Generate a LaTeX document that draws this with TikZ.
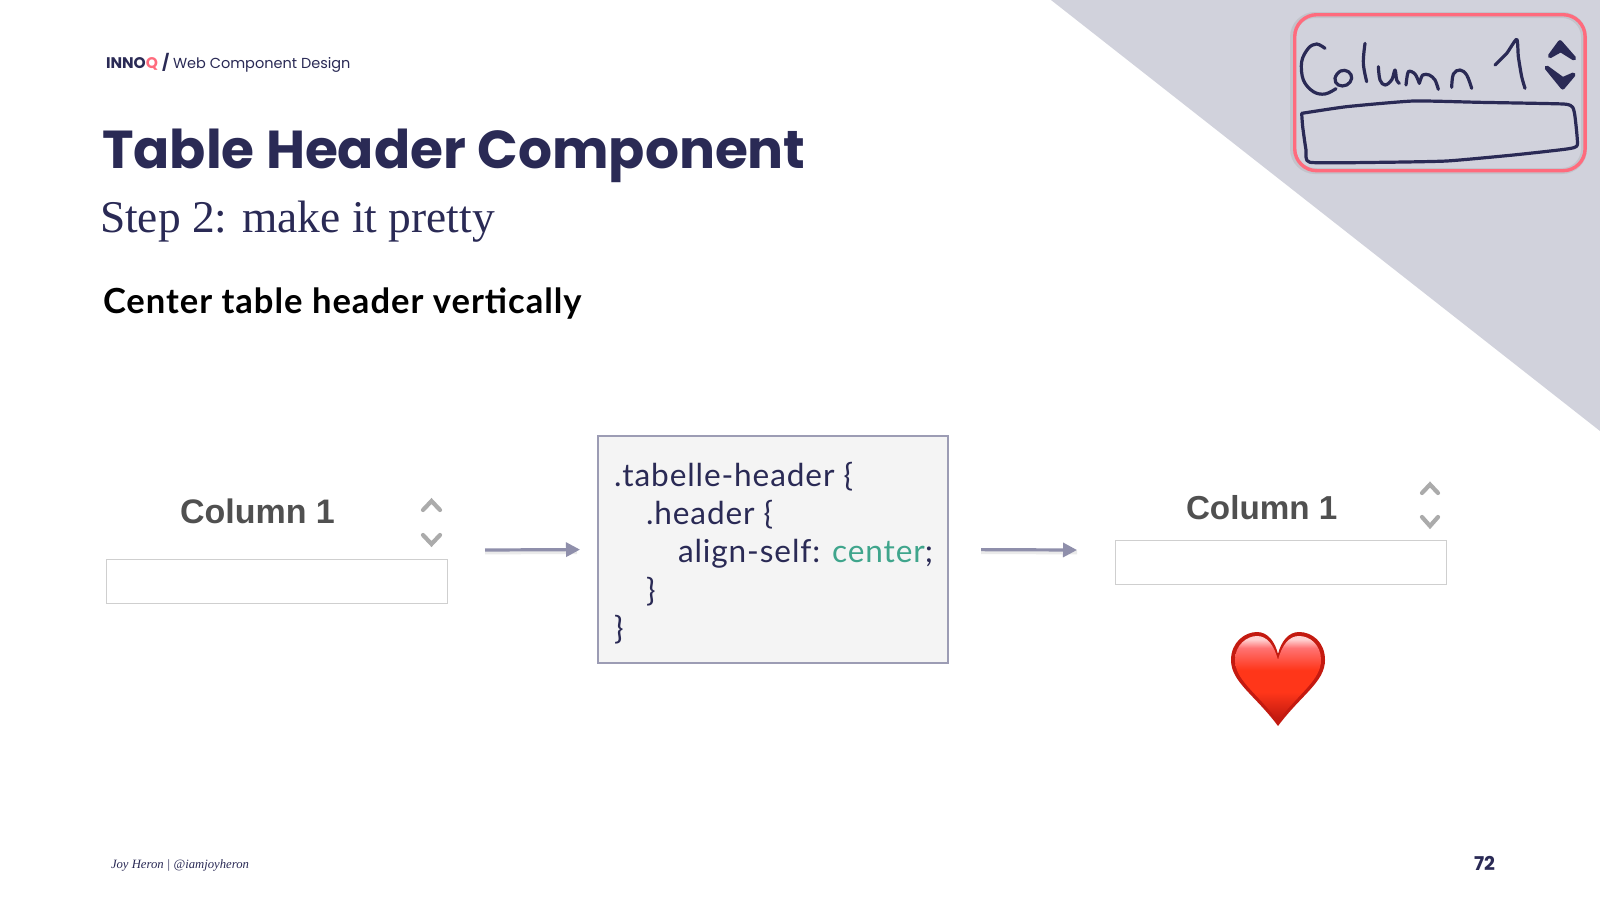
\documentclass[tikz,border=0pt]{standalone}
\usepackage{fontspec}
\setmainfont{Poppins}
\newfontfamily\serifface{Liberation Serif}
\newfontfamily\armface{Liberation Sans}
\newfontfamily\latoface[LetterSpace=2.8]{Lato}
\usetikzlibrary{arrows.meta}
\definecolor{ink}{HTML}{2A2A55}
\definecolor{tri}{HTML}{D1D2DC}
\definecolor{pinkred}{HTML}{FF6B7D}
\definecolor{arrowc}{HTML}{8F8FAB}
\definecolor{boxline}{HTML}{9C9CB4}
\definecolor{codebg}{HTML}{F4F4F4}
\definecolor{teal}{HTML}{3FA58C}
\definecolor{lgray}{HTML}{CFCFCF}
\definecolor{chev}{HTML}{ABABAB}
\definecolor{coltext}{HTML}{505050}
\definecolor{heartedge}{HTML}{C41A10}
\pgfdeclareverticalshading{heartfill}{100bp}{color(0bp)=(heartedge); color(27bp)=(heartedge); color(42bp)=(red!75!orange!90!white); color(55bp)=(red!75!orange!90!white); color(68bp)=(red!55!white); color(73bp)=(red!18!white); color(100bp)=(red!18!white)}
\tikzset{
 txt/.style={anchor=base west,inner sep=0pt,outer sep=0pt},
 codeline/.style={txt,text=ink,font=\latoface\fontsize{15.8}{18}\selectfont},
 inputbox/.style={draw=lgray,line width=0.7pt,fill=white,inner sep=0pt,minimum height=22pt},
 coltitle/.style={txt,text=coltext,font=\armface\bfseries\fontsize{17}{20}\selectfont},
 chevron/.style={draw=chev,line width=2.1pt,line cap=round,line join=miter},
 flow/.style={draw=arrowc,line width=1.6pt,-{Triangle[length=7pt,width=7pt]}},
 flowshadow/.style={draw=black!45,opacity=.18,line width=2pt},
 hand/.style={draw=ink,line width=1.6pt,line cap=round,line join=round},
}
\begin{document}
\begin{tikzpicture}[x=0.5pt,y=-0.5pt]
\useasboundingbox (0,0) rectangle (1600,900);
\fill[white] (0,0) rectangle (1600,900);
\fill[tri] (1051,0) -- (1600,431) -- (1600,0) -- cycle;
% header
\node[txt,text=ink,font=\bfseries\fontsize{7.7}{9}\selectfont] (brand) at (106,68) {INNO\textcolor{pinkred}{Q}};
\node[txt,text=ink,font=\bfseries\fontsize{8}{10}\selectfont] (slash) at (162,68) {/};
\node[txt,text=ink,font=\fontsize{7.25}{9}\selectfont] (crumb) at (173,68) {Web Component Design};
\node[txt,text=ink,font=\bfseries\fontsize{26.7}{30}\selectfont] (title) at (102,168) {Table Header Component};
\node[txt,text=ink,font=\serifface\fontsize{22.7}{26}\selectfont] (sub) at (100,232) {Step 2: make it pretty};
\node[txt,text=black,font=\latoface\bfseries\fontsize{17.3}{20}\selectfont] (lead) at (103,313) {Center table header vertically};
% left widget
\node[inputbox,minimum width=170.5pt,anchor=north west] (leftbox) at (106,559) {};
\node[coltitle] (lefttitle) at (180,523) {Column 1};
\coordinate (lu1) at (423,510);\coordinate (lu2) at (431.5,501);\coordinate (lu3) at (440,510);
\coordinate (ld1) at (423,535);\coordinate (ld2) at (431.5,544);\coordinate (ld3) at (440,535);
\draw[chevron] (lu1) -- (lu2) -- (lu3);
\draw[chevron] (ld1) -- (ld2) -- (ld3);
% code
\node[draw=boxline,line width=1pt,fill=codebg,minimum width=175pt,minimum height=113.5pt,inner sep=0pt,anchor=north west] (code) at (597,435) {};
\node[codeline] (c1) at (614,486) {.tabelle-header \{};
\node[codeline] (c2) at (646,524) {.header \{};
\node[codeline] (c3) at (678,562) {align-self: \textcolor{teal}{center};};
\node[codeline] (c4) at (646,601) {\}};
\node[codeline] (c5) at (614,639) {\}};
% arrows
\coordinate (a1s) at (485,550);
\coordinate (a2e) at (1077,550);
\draw[flowshadow,shorten >=10pt] ([yshift=-1.2pt]a1s) -- ([yshift=-1.2pt]code.west);
\draw[flowshadow,shorten <=16pt] ([yshift=-1.2pt]code.east) -- ([yshift=-1.2pt]a2e);
\draw[flow,shorten >=8.5pt] (a1s) -- (code.west);
\draw[flow,shorten <=16pt] (code.east) -- (a2e);
% right widget
\node[inputbox,minimum width=165.5pt,anchor=north west] (rightbox) at (1114.5,540) {};
\node[coltitle,font=\armface\bfseries\fontsize{16.6}{20}\selectfont] (righttitle) at (1186,519) {Column 1};
\coordinate (ru1) at (1422,493);\coordinate (ru2) at (1430,484.5);\coordinate (ru3) at (1438,493);
\coordinate (rd1) at (1422,517);\coordinate (rd2) at (1430,526);\coordinate (rd3) at (1438,517);
\draw[chevron] (ru1) -- (ru2) -- (ru3);
\draw[chevron] (rd1) -- (rd2) -- (rd3);
% heart
\fill[heartedge] (1278,726) .. controls (1255,695) and (1231,682) .. (1231,660) .. controls (1231,642) and (1245,632) .. (1257,632) .. controls (1268,632) and (1275,642) .. (1278,654) .. controls (1281,642) and (1288,632) .. (1299,632) .. controls (1312,632) and (1325,642) .. (1325,660) .. controls (1325,682) and (1301,695) .. (1278,726) -- cycle;
\shade[shading=heartfill] (1278,721) .. controls (1257,693) and (1235,680) .. (1235,660) .. controls (1235,645) and (1247,636) .. (1257,636) .. controls (1267,636) and (1274,645) .. (1278,660) .. controls (1282,645) and (1289,636) .. (1299,636) .. controls (1310,636) and (1321,645) .. (1321,660) .. controls (1321,680) and (1299,693) .. (1278,721) -- cycle;
% sketch
\draw[black!40,opacity=.25,line width=3pt,rounded corners=11pt] (1293,15) rectangle (1584,171);
\node[draw=pinkred,line width=1.7pt,rounded corners=11pt,minimum width=145.2pt,minimum height=78pt,inner sep=0pt,anchor=north west] (sketch) at (1293,13) {};
\begin{scope}[shift={(1280,0)},x=0.16667pt,y=-0.16667pt]
\draw[hand] plot[smooth,tension=.6] coordinates {(135,145)(110,132)(85,145)(65,185)(70,240)(100,275)(135,282)(168,266)};
\draw[hand] plot[smooth cycle,tension=.7] coordinates {(182,213)(165,235)(175,255)(200,255)(215,235)(205,215)};
\draw[hand] plot[smooth,tension=.6] coordinates {(255,130)(250,190)(260,245)};
\draw[hand] plot[smooth,tension=.6] coordinates {(295,200)(300,240)(315,255)(335,240)(345,210)(350,240)(358,250)};
\draw[hand] plot[smooth,tension=.5] coordinates {(378,255)(385,215)(405,222)(418,250)};
\draw[hand] plot[smooth,tension=.5] coordinates {(418,250)(428,225)(448,225)(465,240)(475,268)};
\draw[hand] plot[smooth,tension=.6] coordinates {(515,262)(520,222)(540,210)(560,225)(575,265)};
\draw[hand] plot[smooth,tension=.4] coordinates {(645,195)(680,160)(710,118)(715,170)(725,230)(735,265)};
\draw[hand,line width=2.2pt,fill=ink] (810,168) -- (840,127) -- (882,175) -- (842,150) -- cycle;
\draw[hand,line width=2.2pt,fill=ink] (800,203) -- (848,262) -- (880,224) -- (848,238) -- cycle;
\draw[hand] plot[smooth,tension=.3] coordinates {(65,340)(200,320)(400,303)(600,307)(850,312)(878,322)(885,350)(892,435)(860,447)(700,465)(500,483)(300,487)(90,487)(78,450)(68,380)(65,340)};
\end{scope}
% footer
\node[txt,text=ink,font=\serifface\itshape\fontsize{6.35}{9}\selectfont] (foot) at (111,868) {Joy Heron | @iamjoyheron};
\node[txt,text=ink,font=\bfseries\fontsize{9.5}{11}\selectfont] (pg) at (1474,870) {72};
\end{tikzpicture}
\end{document}
